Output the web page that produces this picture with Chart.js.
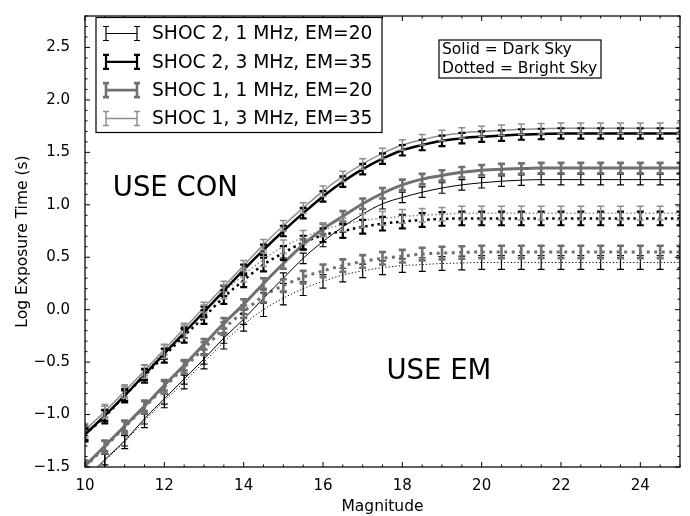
<!DOCTYPE html>
<html>
<head>
<meta charset="utf-8">
<script src="https://cdn.jsdelivr.net/npm/chart.js@4.4.0/dist/chart.umd.min.js"></script>
<style>
    html, body { margin: 0; padding: 0; background: #fff; }
    #wrap { width: 690px; height: 516px; }
</style>
</head>
<body>
<div id="wrap"><canvas id="expChart" width="690" height="516"></canvas></div>
<script>
// Magnitudes (x values, every 0.5 mag)
const magnitudes = [10, 10.5, 11, 11.5, 12, 12.5, 13, 13.5, 14, 14.5, 15, 15.5, 16, 16.5, 17, 17.5,
    18, 18.5, 19, 19.5, 20, 20.5, 21, 21.5, 22, 22.5, 23, 23.5, 24, 24.5, 25];

// Log exposure time, dark sky (solid lines)
const shoc2_1mhz_dark = [-1.62, -1.43, -1.25, -1.04, -0.85, -0.66, -0.47, -0.27, -0.09, 0.11, 0.30, 0.49, 0.65, 0.79, 0.91, 1.01,
    1.07, 1.12, 1.16, 1.19, 1.21, 1.225, 1.235, 1.24, 1.24, 1.24, 1.24, 1.24, 1.24, 1.24, 1.24];
const shoc2_3mhz_dark = [-1.19, -1.01, -0.82, -0.62, -0.42, -0.22, -0.02, 0.18, 0.38, 0.57, 0.75, 0.92, 1.08, 1.22, 1.34, 1.44,
    1.52, 1.57, 1.61, 1.635, 1.65, 1.66, 1.67, 1.675, 1.68, 1.68, 1.68, 1.68, 1.68, 1.68, 1.68];
const shoc1_1mhz_dark = [-1.49, -1.30, -1.11, -0.92, -0.72, -0.53, -0.33, -0.13, 0.05, 0.25, 0.44, 0.62, 0.77, 0.89, 1.01, 1.11,
    1.19, 1.245, 1.28, 1.31, 1.33, 1.34, 1.345, 1.35, 1.35, 1.35, 1.35, 1.35, 1.35, 1.35, 1.35];
const shoc1_3mhz_dark = [-1.15, -0.97, -0.78, -0.58, -0.38, -0.18, 0.02, 0.22, 0.42, 0.62, 0.80, 0.97, 1.13, 1.27, 1.39, 1.49,
    1.57, 1.62, 1.66, 1.685, 1.70, 1.71, 1.72, 1.725, 1.73, 1.73, 1.73, 1.73, 1.73, 1.73, 1.73];

// Log exposure time, bright sky (dotted lines)
const shoc2_1mhz_bright = [-1.63, -1.44, -1.26, -1.06, -0.87, -0.69, -0.50, -0.31, -0.14, 0.00, 0.11, 0.20, 0.27, 0.33, 0.37, 0.40,
    0.42, 0.43, 0.44, 0.445, 0.45, 0.45, 0.45, 0.45, 0.45, 0.45, 0.45, 0.45, 0.45, 0.45, 0.45];
const shoc2_3mhz_bright = [-1.19, -1.02, -0.82, -0.63, -0.44, -0.25, -0.07, 0.12, 0.28, 0.43, 0.54, 0.64, 0.71, 0.75, 0.79, 0.82,
    0.84, 0.855, 0.865, 0.87, 0.87, 0.87, 0.87, 0.87, 0.87, 0.87, 0.87, 0.87, 0.87, 0.87, 0.87];
const shoc1_1mhz_bright = [-1.50, -1.31, -1.12, -0.93, -0.74, -0.55, -0.37, -0.18, -0.02, 0.13, 0.23, 0.31, 0.37, 0.42, 0.46, 0.49,
    0.51, 0.53, 0.54, 0.545, 0.55, 0.55, 0.55, 0.55, 0.55, 0.55, 0.55, 0.55, 0.55, 0.55, 0.55];
const shoc1_3mhz_bright = [-1.15, -0.97, -0.78, -0.59, -0.40, -0.21, -0.02, 0.17, 0.33, 0.48, 0.60, 0.69, 0.76, 0.81, 0.85, 0.87,
    0.89, 0.90, 0.91, 0.92, 0.92, 0.92, 0.92, 0.92, 0.92, 0.92, 0.92, 0.92, 0.92, 0.92, 0.92];

// Error bar half sizes (log s)
const errDark = [0.05, 0.05, 0.05, 0.05];
const errBright = [0.065, 0.065, 0.06, 0.065];

const seriesLabels = ['SHOC 2, 1 MHz, EM=20', 'SHOC 2, 3 MHz, EM=35', 'SHOC 1, 1 MHz, EM=20', 'SHOC 1, 3 MHz, EM=35'];

// Tick labels
const xTickValues = [10, 12, 14, 16, 18, 20, 22, 24];
const yTickValues = [-1.5, -1.0, -0.5, 0.0, 0.5, 1.0, 1.5, 2.0, 2.5];

// line styles per config: black thin, black thick, gray thick, light gray thin
const styles = [
    { color: '#000000', width: 1, barWidth: 1.2 },
    { color: '#000000', width: 2.5, barWidth: 2.2 },
    { color: '#707070', width: 3, barWidth: 2.6 },
    { color: '#8e8e8e', width: 1.5, barWidth: 1.5 }
];

const darkSets = [shoc2_1mhz_dark, shoc2_3mhz_dark, shoc1_1mhz_dark, shoc1_3mhz_dark];
const brightSets = [shoc2_1mhz_bright, shoc2_3mhz_bright, shoc1_1mhz_bright, shoc1_3mhz_bright];

function makeDataset(values, i, dotted) {
    const st = styles[i];
    return {
        label: seriesLabels[i] + (dotted ? ' (bright)' : ''),
        data: magnitudes.map((m, k) => ({ x: m, y: values[k] })),
        borderColor: st.color,
        borderWidth: st.width,
        borderDash: dotted ? [Math.max(1.2, st.width), Math.max(2.2, st.width * 1.5)] : [],
        pointRadius: 0,
        showLine: true,
        cubicInterpolationMode: 'monotone',
        err: dotted ? errBright[i] : errDark[i],
        barWidth: st.barWidth,
        order: 10 - i - (dotted ? 0 : 4)
    };
}

const datasets = [];
darkSets.forEach((v, i) => datasets.push(makeDataset(v, i, false)));
brightSets.forEach((v, i) => datasets.push(makeDataset(v, i, true)));

// error bars through the scales
const errorBars = {
    id: 'errorBars',
    afterDatasetsDraw(chart) {
        const { ctx, chartArea: a, scales: { x, y } } = chart;
        ctx.save();
        ctx.beginPath();
        ctx.rect(a.left, a.top, a.width, a.height);
        ctx.clip();
        chart.data.datasets.forEach(ds => {
            ctx.strokeStyle = ds.borderColor;
            ctx.lineWidth = ds.barWidth;
            ctx.setLineDash([]);
            ctx.beginPath();
            ds.data.forEach(p => {
                const px = x.getPixelForValue(p.x);
                const y0 = y.getPixelForValue(p.y - ds.err);
                const y1 = y.getPixelForValue(p.y + ds.err);
                ctx.moveTo(px, y0); ctx.lineTo(px, y1);
                ctx.moveTo(px - 3.5, y0); ctx.lineTo(px + 3.5, y0);
                ctx.moveTo(px - 3.5, y1); ctx.lineTo(px + 3.5, y1);
            });
            ctx.stroke();
        });
        ctx.restore();
    }
};

// frame, inward ticks, legend and annotations
const decorations = {
    id: 'decorations',
    afterDraw(chart) {
        const { ctx, chartArea: a, scales: { x, y } } = chart;
        ctx.save();
        ctx.strokeStyle = '#000';
        ctx.lineWidth = 1;
        ctx.beginPath();
        for (let k = 20; k <= 50; k++) {
            const px = x.getPixelForValue(k / 2);
            const len = (k % 4 === 0) ? 5 : 2.5;
            ctx.moveTo(px, a.bottom); ctx.lineTo(px, a.bottom - len);
            ctx.moveTo(px, a.top); ctx.lineTo(px, a.top + len);
        }
        for (let k = -15; k <= 28; k++) {
            const py = y.getPixelForValue(k / 10);
            const len = (k % 5 === 0) ? 5 : 2.5;
            ctx.moveTo(a.left, py); ctx.lineTo(a.left + len, py);
            ctx.moveTo(a.right, py); ctx.lineTo(a.right - len, py);
        }
        ctx.stroke();
        ctx.lineWidth = 1.25;
        ctx.strokeRect(a.left, a.top, a.width, a.height);

        // annotations
        ctx.fillStyle = '#000';
        ctx.font = '27.5px "DejaVu Sans"';
        ctx.textBaseline = 'alphabetic';
        ctx.fillText('USE CON', x.getPixelForValue(10.7), y.getPixelForValue(1.08));
        ctx.fillText('USE EM', x.getPixelForValue(17.6), y.getPixelForValue(-0.66));

        // legend
        ctx.lineWidth = 1.2;
        ctx.strokeStyle = '#000';
        ctx.fillStyle = '#fff';
        ctx.fillRect(96, 17.5, 286, 115);
        ctx.strokeRect(96, 17.5, 286, 115);
        ctx.font = '18.7px "DejaVu Sans"';
        ctx.textBaseline = 'middle';
        seriesLabels.forEach((lab, i) => {
            const cy = 33.5 + i * 28.3;
            const st = styles[i];
            ctx.strokeStyle = st.color;
            ctx.lineWidth = st.barWidth;
            ctx.beginPath();
            ctx.moveTo(106, cy); ctx.lineTo(137, cy);
            [106, 137].forEach(ex => {
                ctx.moveTo(ex, cy - 7); ctx.lineTo(ex, cy + 7);
                ctx.moveTo(ex - 3, cy - 7); ctx.lineTo(ex + 3, cy - 7);
                ctx.moveTo(ex - 3, cy + 7); ctx.lineTo(ex + 3, cy + 7);
            });
            ctx.stroke();
            ctx.fillStyle = '#000';
            ctx.fillText(lab, 152, cy + 1);
        });

        // line style key
        ctx.lineWidth = 1.2;
        ctx.strokeStyle = '#000';
        ctx.strokeRect(439, 40, 162, 38);
        ctx.font = '15.5px "DejaVu Sans"';
        ctx.fillText('Solid = Dark Sky', 442, 50);
        ctx.fillText('Dotted = Bright Sky', 442, 68.5);
        ctx.restore();
    }
};

const tickFont = { family: 'DejaVu Sans', size: 15 };

new Chart(document.getElementById('expChart'), {
    type: 'scatter',
    data: { datasets },
    options: {
        responsive: false,
        animation: false,
        layout: { padding: { top: 8, right: 10, left: 0, bottom: 0 } },
        plugins: { legend: { display: false }, tooltip: { enabled: false } },
        scales: {
            x: {
                type: 'linear',
                min: 10,
                max: 25,
                grid: { display: false },
                border: { display: false },
                afterBuildTicks: s => { s.ticks = xTickValues.map(v => ({ value: v })); },
                afterFit: s => { s.height = 49; },
                ticks: {
                    font: tickFont,
                    color: '#000',
                    padding: 2,
                    maxRotation: 0,
                    callback: v => String(v)
                },
                title: {
                    display: true,
                    text: 'Magnitude',
                    color: '#000',
                    font: { family: 'DejaVu Sans', size: 15.5 },
                    padding: { top: 0, bottom: 0 }
                }
            },
            y: {
                type: 'linear',
                min: -1.5,
                max: 2.8,
                grid: { display: false },
                border: { display: false },
                afterBuildTicks: s => { s.ticks = yTickValues.map(v => ({ value: v })); },
                afterFit: s => { s.width = 85; },
                ticks: {
                    font: tickFont,
                    color: '#000',
                    padding: 7,
                    callback: v => (v < 0 ? '\u2212' : '') + Math.abs(v).toFixed(1)
                },
                title: {
                    display: true,
                    text: 'Log Exposure Time (s)',
                    color: '#000',
                    font: { family: 'DejaVu Sans', size: 15.5 },
                    padding: { top: 14, bottom: 0 }
                }
            }
        }
    },
    plugins: [errorBars, decorations]
});
</script>
</body>
</html>
